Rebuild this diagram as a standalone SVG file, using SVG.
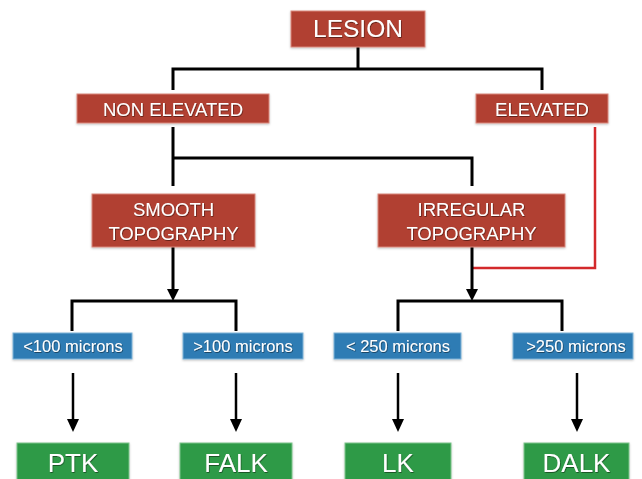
<svg xmlns="http://www.w3.org/2000/svg" width="642" height="479" viewBox="0 0 642 479">
<style>
  .red{fill:#B13F30;stroke:#D98A7E;stroke-width:1}
  .blue{fill:#2F7CB4;stroke:#7FB3D8;stroke-width:1}
  .green{fill:#2F9A47;stroke:#7CC48C;stroke-width:1}
  text{font-family:"Liberation Sans",Arial,sans-serif;fill:#fff;text-anchor:middle}
  .t1{font-size:24.5px}
  .t2{font-size:18.5px}
  .t3{font-size:16.5px}
  .t4{font-size:26px}
  .ln{fill:none;stroke:#000;stroke-width:3}
  .ar{fill:none;stroke:#000;stroke-width:2.5}
  .rl{fill:none;stroke:#D3292B;stroke-width:2.5}
</style>
<defs>
  <marker id="ah" viewBox="0 0 12 12" refX="6" refY="12" markerUnits="userSpaceOnUse" markerWidth="12" markerHeight="12" orient="auto-start-reverse">
    <path d="M0,0 L12,0 L6,12 Z" fill="#000"/>
  </marker>
  <filter id="ts" x="-10%" y="-10%" width="120%" height="130%">
    <feDropShadow dx="0.6" dy="0.8" stdDeviation="0.6" flood-color="#000" flood-opacity="0.55"/>
  </filter>
  <filter id="bs" x="-5%" y="-10%" width="110%" height="130%">
    <feDropShadow dx="0" dy="1" stdDeviation="1" flood-color="#000" flood-opacity="0.25"/>
  </filter>
</defs>
<rect width="642" height="479" fill="#fff"/>
<g id="connectors">
  <path class="ln" d="M358,47 V69 M173,90 V69 H542 V90"/>
  <path class="ln" d="M173,127 V186 M173,158 H472 V186"/>
  <path class="rl" d="M595,127 V268 H472"/>
  <path class="ln" d="M173,247 V290"/>
  <path d="M167,289 L179,289 L173,301 Z" fill="#000"/>
  <path class="ln" d="M472,247 V290"/>
  <path d="M466,289 L478,289 L472,301 Z" fill="#000"/>
  <path class="ln" d="M72,331 V301 H236 V331"/>
  <path class="ln" d="M398,331 V301 H562 V331"/>
  <path class="ar" d="M73,373 V421"/>
  <path d="M67,419 L79,419 L73,432 Z" fill="#000"/>
  <path class="ar" d="M236,373 V421"/>
  <path d="M230,419 L242,419 L236,432 Z" fill="#000"/>
  <path class="ar" d="M398,373 V421"/>
  <path d="M392,419 L404,419 L398,432 Z" fill="#000"/>
  <path class="ar" d="M577,373 V421"/>
  <path d="M571,419 L583,419 L577,432 Z" fill="#000"/>
</g>
<g id="lesion" filter="url(#bs)">
  <rect class="red" x="291" y="11" width="134" height="36"/>
  <text class="t1" x="358" y="37" filter="url(#ts)">LESION</text>
</g>
<g id="non-elevated" filter="url(#bs)">
  <rect class="red" x="77" y="94" width="192" height="29"/>
  <text class="t2" x="173" y="115.5" filter="url(#ts)">NON ELEVATED</text>
</g>
<g id="elevated" filter="url(#bs)">
  <rect class="red" x="476" y="94" width="132" height="29"/>
  <text class="t2" x="542" y="115.5" filter="url(#ts)">ELEVATED</text>
</g>
<g id="smooth" filter="url(#bs)">
  <rect class="red" x="92" y="194" width="163" height="53"/>
  <text class="t2" x="173.5" y="216" filter="url(#ts)">SMOOTH</text>
  <text class="t2" x="173.5" y="239.5" filter="url(#ts)">TOPOGRAPHY</text>
</g>
<g id="irregular" filter="url(#bs)">
  <rect class="red" x="378" y="194" width="187" height="53"/>
  <text class="t2" x="471.5" y="216" filter="url(#ts)">IRREGULAR</text>
  <text class="t2" x="471.5" y="239.5" filter="url(#ts)">TOPOGRAPHY</text>
</g>
<g id="lt100" filter="url(#bs)">
  <rect class="blue" x="13" y="333" width="119" height="26"/>
  <text class="t3" x="73" y="351.5" filter="url(#ts)">&lt;100 microns</text>
</g>
<g id="gt100" filter="url(#bs)">
  <rect class="blue" x="183" y="333" width="120" height="26"/>
  <text class="t3" x="243" y="351.5" filter="url(#ts)">&gt;100 microns</text>
</g>
<g id="lt250" filter="url(#bs)">
  <rect class="blue" x="334" y="333" width="127" height="26"/>
  <text class="t3" x="398" y="351.5" filter="url(#ts)">&lt; 250 microns</text>
</g>
<g id="gt250" filter="url(#bs)">
  <rect class="blue" x="513" y="333" width="120" height="26"/>
  <text class="t3" x="576" y="351.5" filter="url(#ts)">&gt;250 microns</text>
</g>
<g id="ptk" filter="url(#bs)">
  <rect class="green" x="17" y="443" width="112" height="40"/>
  <text class="t4" x="73" y="471.5" filter="url(#ts)">PTK</text>
</g>
<g id="falk" filter="url(#bs)">
  <rect class="green" x="180" y="443" width="112" height="40"/>
  <text class="t4" x="236" y="471.5" filter="url(#ts)">FALK</text>
</g>
<g id="lk" filter="url(#bs)">
  <rect class="green" x="345" y="443" width="106" height="40"/>
  <text class="t4" x="398" y="471.5" filter="url(#ts)">LK</text>
</g>
<g id="dalk" filter="url(#bs)">
  <rect class="green" x="524" y="443" width="105" height="40"/>
  <text class="t4" x="576.5" y="471.5" filter="url(#ts)">DALK</text>
</g>
</svg>
